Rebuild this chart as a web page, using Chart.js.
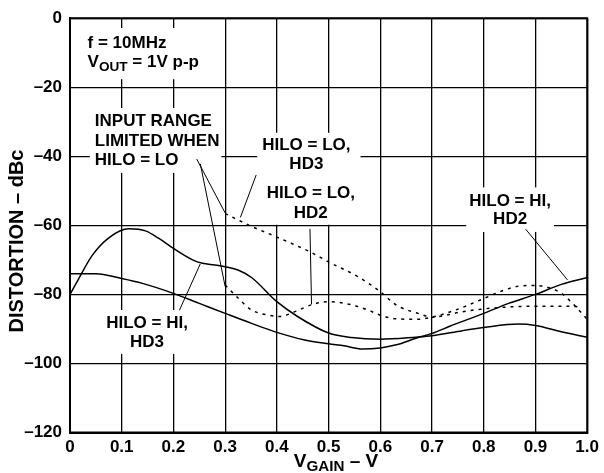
<!DOCTYPE html>
<html>
<head>
<meta charset="UTF-8">
<title>Distortion vs VGAIN</title>
<script src="https://cdn.jsdelivr.net/npm/chart.js"></script>
<style>
  body { margin: 0; background: #fff; }
  #box { width: 604px; height: 473px; }
</style>
</head>
<body>
<div id="box"><canvas id="grafico" width="604" height="473"></canvas></div>
<script>
// eixos
const xTicks = [0, 0.1, 0.2, 0.3, 0.4, 0.5, 0.6, 0.7, 0.8, 0.9, 1.0];
const yTicks = [0, -20, -40, -60, -80, -100, -120];

// HILO = HI, HD3 (solida, pico em ~0.11)
const hiHd3X = [0, 0.017, 0.043, 0.075, 0.114, 0.146, 0.172, 0.2, 0.237, 0.256, 0.28, 0.3, 0.326, 0.351, 0.4, 0.44, 0.5, 0.544, 0.6, 0.669, 0.7, 0.759, 0.8, 0.867, 0.9, 0.95, 1.0];
const hiHd3Y = [-80, -75.4, -68.7, -63.6, -61, -61.6, -63.8, -66.7, -70, -71, -71.5, -72, -73, -75.1, -82.1, -86.4, -91.2, -92.5, -93, -92.4, -92, -90.5, -89.6, -88.6, -89, -90.8, -92.4];

// HILO = HI, HD2 (solida)
const hiHd2X = [0, 0.05, 0.1, 0.14, 0.2, 0.25, 0.3, 0.351, 0.4, 0.454, 0.5, 0.53, 0.565, 0.6, 0.631, 0.669, 0.7, 0.733, 0.8, 0.848, 0.9, 0.95, 1.0];
const hiHd2Y = [-74, -74, -75.4, -76.8, -79.7, -82.6, -85.5, -88.4, -91, -93.2, -94.3, -94.9, -95.8, -95.5, -94.6, -92.7, -91.3, -89.3, -85.5, -82.6, -80, -77.1, -75.1];

// HILO = LO, HD3 (pontilhada)
const loHd3X = [0.3, 0.351, 0.4, 0.467, 0.5, 0.557, 0.6, 0.631, 0.673, 0.7, 0.759, 0.8, 0.854, 0.9, 0.95, 0.99];
const loHd3Y = [-56.6, -60.3, -63.4, -67.9, -70.6, -74.9, -79.2, -83.1, -85.5, -86.6, -85, -84.2, -83.6, -83.4, -83.4, -83.6];

// HILO = LO, HD2 (pontilhada)
const loHd2X = [0.3, 0.326, 0.351, 0.384, 0.406, 0.435, 0.467, 0.5, 0.544, 0.576, 0.6, 0.633, 0.673, 0.7, 0.746, 0.8, 0.835, 0.873, 0.9, 0.931, 0.95, 0.975, 1.0];
const loHd2Y = [-77.3, -81.2, -84.5, -86, -86.4, -85, -83, -82.1, -83, -84.5, -86, -87.1, -87.2, -86.6, -84.5, -81.2, -79, -77.5, -77.4, -78.3, -79.7, -83.1, -87.2];

// linhas de chamada dos textos: [x0, y0, x1, y1]
const setas = [
  [0.245, -40.8, 0.300, -56.4],
  [0.252, -42.2, 0.300, -77.7],
  [0.360, -45.4, 0.3295, -57.7],
  [0.464, -61.0, 0.467, -82.9],
  [0.2116, -84.6, 0.2518, -71.2],
  [0.881, -61.1, 0.962, -75.8]
];

// textos dentro do grafico
const notas = [
  { x: 0.034, y: [-8.7, -14.2], align: 'left', pad: [8, 5, 12, 6],
    linhas: [[['f = 10MHz']], [['V'], ['OUT', 1], [' = 1V p-p']]] },
  { x: 0.048, y: [-31.3, -37.0, -42.5], align: 'left', pad: [6, 2, 8, 5],
    linhas: [[['INPUT RANGE']], [['LIMITED WHEN']], [['HILO = LO']]] },
  { x: 0.457, y: [-38.2, -43.7], align: 'center', pad: [5, 10, 7, 5],
    linhas: [[['HILO = LO,']], [['HD3']]] },
  { x: 0.4656, y: [-52.0, -57.8], align: 'center', pad: [12, 6, 7, 5],
    linhas: [[['HILO = LO,']], [['HD2']]] },
  { x: 0.851, y: [-54.3, -59.6], align: 'center', pad: [6, 3, 8, 3],
    linhas: [[['HILO = HI,']], [['HD2']]] },
  { x: 0.149, y: [-89.8, -95.2], align: 'center', pad: [6, 7, 7, 8],
    linhas: [[['HILO = HI,']], [['HD3']]] }
];

const FAMILIA = '"Liberation Sans", Arial, sans-serif';
function fonte(tam) { return 'bold ' + tam + 'px ' + FAMILIA; }

function serie(xs, ys) { return xs.map((x, i) => ({ x: x, y: ys[i] })); }

function largura(ctx, linha, tam) {
  let w = 0;
  linha.forEach(seg => {
    ctx.font = fonte(seg[1] ? tam * 0.8 : tam);
    w += ctx.measureText(seg[0]).width;
  });
  return w;
}

function escreve(ctx, linha, x, y, tam) {
  linha.forEach(seg => {
    const t = seg[1] ? tam * 0.8 : tam;
    ctx.font = fonte(t);
    ctx.fillText(seg[0], x, seg[1] ? y + 4 : y);
    x += ctx.measureText(seg[0]).width;
  });
}

const TAM_NOTA = 17;

const desenhos = {
  id: 'desenhos',
  beforeDatasetsDraw(chart) {
    const ctx = chart.ctx;
    const sx = chart.scales.x, sy = chart.scales.y;
    const a = chart.chartArea;
    ctx.save();
    // caixas brancas atras dos textos
    ctx.fillStyle = '#fff';
    notas.forEach(n => {
      const cx = sx.getPixelForValue(n.x);
      let esq = Infinity, dir = -Infinity;
      n.linhas.forEach(l => {
        const w = largura(ctx, l, TAM_NOTA);
        const x0 = n.align === 'center' ? cx - w / 2 : cx;
        esq = Math.min(esq, x0);
        dir = Math.max(dir, x0 + w);
      });
      const topo = sy.getPixelForValue(n.y[0]) - TAM_NOTA * 0.72 - n.pad[0];
      const base = sy.getPixelForValue(n.y[n.y.length - 1]) + n.pad[2];
      ctx.fillRect(esq - n.pad[3], topo, dir - esq + n.pad[1] + n.pad[3], base - topo);
    });
    // moldura
    ctx.strokeStyle = '#000';
    ctx.lineWidth = 2;
    ctx.strokeRect(a.left, a.top, a.right - a.left, a.bottom - a.top);
    ctx.restore();
  },
  afterDatasetsDraw(chart) {
    const ctx = chart.ctx;
    const sx = chart.scales.x, sy = chart.scales.y;
    ctx.save();
    ctx.fillStyle = '#000';
    ctx.textBaseline = 'alphabetic';
    ctx.textAlign = 'left';
    notas.forEach(n => {
      const cx = sx.getPixelForValue(n.x);
      n.linhas.forEach((l, i) => {
        const w = largura(ctx, l, TAM_NOTA);
        const x0 = n.align === 'center' ? cx - w / 2 : cx;
        escreve(ctx, l, x0, sy.getPixelForValue(n.y[i]), TAM_NOTA);
      });
    });

    // titulo eixo y
    ctx.save();
    ctx.translate(17.5, 241);
    ctx.rotate(-Math.PI / 2);
    ctx.font = fonte(20);
    ctx.textAlign = 'center';
    ctx.textBaseline = 'middle';
    ctx.fillText('DISTORTION – dBc', 0, 0);
    ctx.restore();

    // titulo eixo x
    const tx = [['V'], ['GAIN', 1], [' – V']];
    const wx = largura(ctx, tx, 19);
    ctx.textAlign = 'left';
    ctx.textBaseline = 'alphabetic';
    escreve(ctx, tx, 336 - wx / 2, 467, 19);
    ctx.restore();
  }
};

const linhaBase = { borderColor: '#000', pointRadius: 0, fill: false };

const datasets = [
  Object.assign({ label: 'HILO = HI, HD3', data: serie(hiHd3X, hiHd3Y), borderWidth: 1.5, cubicInterpolationMode: 'monotone' }, linhaBase),
  Object.assign({ label: 'HILO = HI, HD2', data: serie(hiHd2X, hiHd2Y), borderWidth: 1.5, cubicInterpolationMode: 'monotone' }, linhaBase),
  Object.assign({ label: 'HILO = LO, HD3', data: serie(loHd3X, loHd3Y), borderWidth: 1.5, borderDash: [3, 5], cubicInterpolationMode: 'monotone' }, linhaBase),
  Object.assign({ label: 'HILO = LO, HD2', data: serie(loHd2X, loHd2Y), borderWidth: 1.5, borderDash: [3, 5], cubicInterpolationMode: 'monotone' }, linhaBase)
];
setas.forEach((s, i) => {
  datasets.push(Object.assign({ label: 'seta' + i, data: [{ x: s[0], y: s[1] }, { x: s[2], y: s[3] }], borderWidth: 1 }, linhaBase));
});

const ctx = document.getElementById('grafico').getContext('2d');
const grafico = new Chart(ctx, {
  type: 'line',
  data: { datasets: datasets },
  plugins: [desenhos],
  options: {
    responsive: false,
    devicePixelRatio: 1,
    animation: false,
    layout: { padding: { left: 0, right: 11, top: 16.7, bottom: 0 } },
    plugins: { legend: { display: false }, tooltip: { enabled: false } },
    scales: {
      x: {
        type: 'linear',
        min: 0, max: 1,
        afterFit: s => { s.height = 40.5; },
        afterBuildTicks: s => { s.ticks = xTicks.map(v => ({ value: v })); },
        ticks: {
          color: '#000',
          padding: 5,
          maxRotation: 0,
          font: { family: FAMILIA, size: 17, weight: 'bold' },
          callback: v => v === 0 ? '0' : Number(v).toFixed(1)
        },
        grid: { color: '#000', lineWidth: 1.3, drawTicks: false },
        border: { color: '#000', width: 2 }
      },
      y: {
        type: 'linear',
        min: -120, max: 0,
        afterFit: s => { s.width = 70; },
        afterBuildTicks: s => { s.ticks = yTicks.map(v => ({ value: v })); },
        ticks: {
          color: '#000',
          padding: 8,
          font: { family: FAMILIA, size: 17, weight: 'bold' },
          callback: v => v < 0 ? '–' + Math.abs(v) : String(v)
        },
        grid: { color: '#000', lineWidth: 1.3, drawTicks: false },
        border: { color: '#000', width: 2 }
      }
    }
  }
});
</script>
</body>
</html>
